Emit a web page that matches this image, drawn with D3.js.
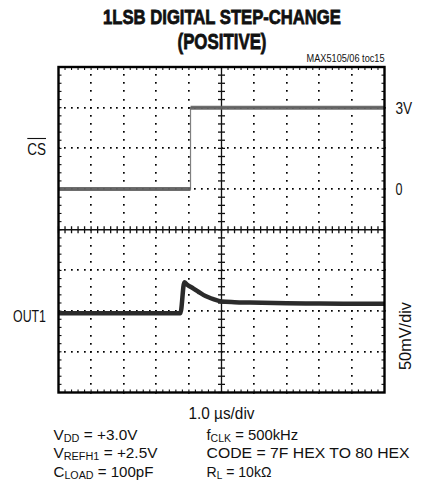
<!DOCTYPE html>
<html><head><meta charset="utf-8">
<script src="https://cdn.jsdelivr.net/npm/d3@7"></script>
<style>body{margin:0;background:#fff}svg{display:block}
text{font-family:"Liberation Sans","Arial",sans-serif;fill:#111}</style>
</head><body><svg id="c" width="422" height="491"></svg>
<script>
// ---- data ----
const xDivs = 10, yDivs = 8, minorPerDiv = 5;
const titleLines = ["1LSB DIGITAL STEP-CHANGE", "(POSITIVE)"];
const noteText = "MAX5105/06 toc15";
// CS channel (volts), 1.5 V/div, 0 V at division 5 from bottom
const csTime  = [0, 4.05, 4.05, 10];
const csVolts = [0, 0, 3, 3];
const csVoltsPerDiv = 1.5, csZeroDiv = 5;
// OUT1 channel (mV relative to initial level), 50 mV/div
const outTime = [0, 3.74, 3.86, 3.95, 4.13, 4.3, 4.44, 4.6, 4.75, 5.0, 5.4, 5.87, 7.0, 8.0, 8.94, 10];
const outMv   = [0, 0, 38, 35, 30.5, 26, 22.5, 19.5, 17.2, 14.3, 13.5, 13, 12.2, 11.8, 11.5, 11.5];
const outMvPerDiv = 50, outZeroDiv = 1.95;
const rightLabels = ["3V", "0"];
const rightLabelVolts = [3, 0];
const scaleLabel = "50mV/div";
const timeLabel = "1.0 µs/div";
const notesLeft = [["V", "DD", " = +3.0V"], ["V", "REFH1", " = +2.5V"], ["C", "LOAD", " = 100pF"]];
const notesRight = [["f", "CLK", " = 500kHz"], ["CODE = 7F HEX TO 80 HEX", "", ""], ["R", "L", " = 10kΩ"]];

// ---- layout ----
const L = 58.5, R = 384.5, T = 67, B = 392.5;
const svg = d3.select("#c");
const x = d3.scaleLinear().domain([0, xDivs]).range([L, R]);
const y = d3.scaleLinear().domain([0, yDivs]).range([B, T]);
const csY = v => y(csZeroDiv + v / csVoltsPerDiv);
const outY = v => y(outZeroDiv + v / outMvPerDiv);
// horizontally condense a text to a target width with a transform
function fit(sel, w, rot) {
  const nat = sel.node().getComputedTextLength();
  const x0 = +sel.attr("x"), y0 = +sel.attr("y");
  sel.attr("x", 0).attr("y", 0)
    .attr("transform", `translate(${x0},${y0})${rot ? ` rotate(${rot})` : ""} scale(${w / nat},1)`);
  return sel;
}

// title
const titleW = [238, 89], titleSize = [20.5, 22.5], titleBase = [24, 48.5];
svg.selectAll("text.title").data(titleLines).join("text").attr("class", "title")
  .attr("x", 222).attr("y", (d, i) => titleBase[i])
  .attr("text-anchor", "middle").attr("font-weight", "bold").attr("font-size", (d, i) => titleSize[i])
  .attr("stroke", "#111").attr("stroke-width", 0.8)
  .text(d => d).each(function (d, i) { fit(d3.select(this), titleW[i]); });
fit(svg.append("text").attr("x", R).attr("y", 62).attr("text-anchor", "end")
  .attr("font-size", 10).text(noteText), 78);

// grid dots
const g = svg.append("g");
const minorX = d3.range(0, xDivs * minorPerDiv + 1).map(i => i / minorPerDiv);
const minorY = d3.range(0, yDivs * minorPerDiv + 1).map(i => i / minorPerDiv);
const dots = [];
d3.range(1, xDivs).filter(i => i !== xDivs / 2).forEach(i => minorY.forEach(v => dots.push([x(i), y(v)])));
d3.range(1, yDivs).filter(j => j !== yDivs / 2).forEach(j => minorX.forEach(u => dots.push([x(u), y(j)])));
g.selectAll("rect.dot").data(dots).join("rect").attr("class", "dot")
  .attr("x", d => Math.round(d[0] - 1)).attr("y", d => Math.round(d[1] - 1))
  .attr("width", 1.7).attr("height", 1.7).attr("fill", "#000");

// center crosshair
const yc = y(yDivs / 2), xc = x(xDivs / 2);
g.append("line").attr("x1", L).attr("x2", R).attr("y1", yc).attr("y2", yc)
  .attr("stroke", "#111").attr("stroke-width", 1.3);
g.append("line").attr("x1", xc).attr("x2", xc).attr("y1", T).attr("y2", B)
  .attr("stroke", "#111").attr("stroke-width", 1.3);
g.selectAll("line.tx").data(minorX).join("line").attr("class", "tx")
  .attr("x1", d => x(d)).attr("x2", d => x(d))
  .attr("y1", yc - 3.5).attr("y2", yc + 3.5)
  .attr("stroke", "#111").attr("stroke-width", 1.3);
g.selectAll("line.ty").data(minorY).join("line").attr("class", "ty")
  .attr("x1", xc - 3.5).attr("x2", xc + 3.5)
  .attr("y1", d => y(d)).attr("y2", d => y(d))
  .attr("stroke", "#111").attr("stroke-width", 1.3);
// edge ticks
const edgeTicks = [];
minorX.forEach(u => { edgeTicks.push([x(u), T, x(u), T + 3]); edgeTicks.push([x(u), B, x(u), B - 3]); });
minorY.forEach(v => { edgeTicks.push([L, y(v), L + 3, y(v)]); edgeTicks.push([R, y(v), R - 3, y(v)]); });
g.selectAll("line.et").data(edgeTicks).join("line").attr("class", "et")
  .attr("x1", d => d[0]).attr("y1", d => d[1]).attr("x2", d => d[2]).attr("y2", d => d[3])
  .attr("stroke", "#111").attr("stroke-width", 1.1);

// CS trace
const csPts = csTime.map((t, i) => [t, csVolts[i]]);
const csLine = d3.line().x(d => x(d[0])).y(d => csY(d[1]));
svg.append("path").attr("d", csLine(csPts)).attr("fill", "none")
  .attr("stroke", "#808080").attr("stroke-width", 1.2);
const csLevels = [];
for (let i = 0; i < csPts.length - 1; i++)
  if (csPts[i][1] === csPts[i + 1][1]) csLevels.push([csPts[i], csPts[i + 1]]);
svg.selectAll("path.cslev").data(csLevels).join("path").attr("class", "cslev")
  .attr("d", d => csLine(d)).attr("fill", "none")
  .attr("stroke", "#5e5e5e").attr("stroke-width", 4).attr("stroke-opacity", 0.9);

// OUT1 trace
const outPts = outTime.map((t, i) => [t, outMv[i]]);
const outLine = d3.line().x(d => x(d[0])).y(d => outY(d[1])).curve(d3.curveMonotoneX);
svg.append("path").attr("d", outLine(outPts)).attr("fill", "none")
  .attr("stroke", "#2b2b2b").attr("stroke-width", 4.5).attr("stroke-linejoin", "round");

// frame
svg.append("rect").attr("x", L).attr("y", T).attr("width", R - L).attr("height", B - T)
  .attr("fill", "none").attr("stroke", "#000").attr("stroke-width", 2.4);

// channel labels
fit(svg.append("text").attr("x", 46).attr("y", 155).attr("text-anchor", "end")
  .attr("font-size", 17).text("CS"), 18.7);
svg.append("line").attr("x1", 27.3).attr("x2", 46).attr("y1", 138.5).attr("y2", 138.5)
  .attr("stroke", "#111").attr("stroke-width", 1.1);
fit(svg.append("text").attr("x", 46).attr("y", 321.5).attr("text-anchor", "end")
  .attr("font-size", 17).text("OUT1"), 33);
const rlW = [16.7, 7];
svg.selectAll("text.rl").data(rightLabels).join("text").attr("class", "rl")
  .attr("x", 395.5).attr("y", (d, i) => csY(rightLabelVolts[i]) + 6)
  .attr("font-size", 17).text(d => d).each(function (d, i) { fit(d3.select(this), rlW[i]); });
fit(svg.append("text").attr("x", 411).attr("y", 336)
  .attr("text-anchor", "middle").attr("font-size", 17).text(scaleLabel), 68, -90);

// bottom annotations
fit(svg.append("text").attr("x", xc).attr("y", 419).attr("text-anchor", "middle")
  .attr("font-size", 16.5).text(timeLabel), 66);
function note(arr, x0, widths) {
  arr.forEach((p, i) => {
    const t = svg.append("text").attr("x", x0).attr("y", 440 + i * 18.3).attr("font-size", 15.5);
    t.append("tspan").text(p[0]);
    if (p[1]) {
      t.append("tspan").attr("font-size", 11).attr("dy", 2).text(p[1]);
      t.append("tspan").attr("dy", -2).text(p[2]);
    }
    fit(t, widths[i]);
  });
}
note(notesLeft, 53.5, [84, 104, 100]);
note(notesRight, 206.5, [91.7, 203.3, 65]);
</script></body></html>
